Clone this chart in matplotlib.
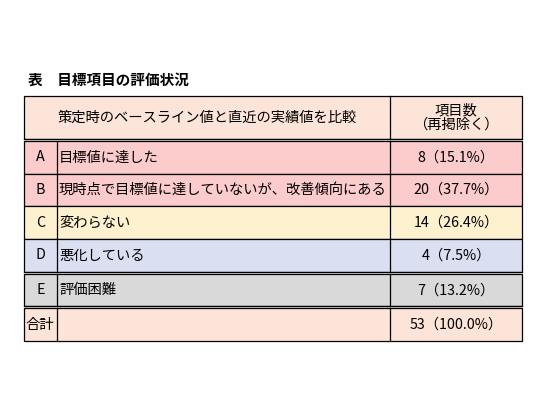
import matplotlib
matplotlib.use("Agg")
import matplotlib.pyplot as plt
from matplotlib.patches import Rectangle

plt.rcParams['font.family'] = ['Noto Sans CJK JP', 'DejaVu Sans']

title = "表　目標項目の評価状況"
header_left = "策定時のベースライン値と直近の実績値を比較"
header_right = "項目数\n（再掲除く）"
codes = ["A", "B", "C", "D", "E", "合計"]
labels = ["目標値に達した", "現時点で目標値に達していないが、改善傾向にある",
          "変わらない", "悪化している", "評価困難", ""]
counts = [8, 20, 14, 4, 7, 53]
percents = ["15.1%", "37.7%", "26.4%", "7.5%", "13.2%", "100.0%"]
row_colors = ["#FCCBCB", "#FCCBCB", "#FEF1CF", "#DAE0F2", "#D9D9D9", "#FDE4D8"]
header_color = "#FDE4D8"

fig = plt.figure(figsize=(5.59, 4.2), dpi=100)
ax = fig.add_axes([0, 0, 1, 1])
ax.set_xlim(0, 559)
ax.set_ylim(420, 0)
ax.axis("off")

x0, x1, x2, x3 = 24, 57, 390, 522
top, head_h, row_h = 96, 43, 32.7
lw = 0.9
fs = 10.3

ax.text(28, 80, title, fontsize=10.5, fontweight="bold", va="center")

# header
ax.add_patch(Rectangle((x0, top), x3 - x0, head_h, facecolor=header_color,
                       edgecolor="black", lw=lw))
ax.plot([x2, x2], [top, top + head_h], color="black", lw=lw)
ax.text((x0 + x2) / 2, top + head_h / 2, header_left, fontsize=fs,
        ha="center", va="center")
ax.text((x2 + x3) / 2, top + head_h / 2, header_right, fontsize=fs,
        ha="center", va="center", linespacing=1.0)

y = top + head_h + 2
double_before = {0, 4, 5}
for i, (c, lab, n, p, col) in enumerate(zip(codes, labels, counts, percents, row_colors)):
    if i in double_before:
        ax.plot([x0, x3], [y - 2, y - 2], color="black", lw=lw)
    y0 = y
    ax.add_patch(Rectangle((x0, y0), x3 - x0, row_h, facecolor=col,
                           edgecolor="black", lw=lw))
    for xv in (x1, x2):
        ax.plot([xv, xv], [y0, y0 + row_h], color="black", lw=lw)
    cy = y0 + row_h / 2
    if c == "合計":
        ax.text(x0 + 1, cy, c, fontsize=fs, ha="left", va="center")
    else:
        ax.text((x0 + x1) / 2, cy, c, fontsize=fs, ha="center", va="center")
    ax.text(x1 + 2, cy, lab, fontsize=fs, ha="left", va="center")
    ax.text((x2 + x3) / 2, cy, f"{n}（{p}）", fontsize=fs, ha="center", va="center")
    y = y0 + row_h
    if i + 1 in double_before:
        y += 2

fig.savefig("out.png", dpi=100)
